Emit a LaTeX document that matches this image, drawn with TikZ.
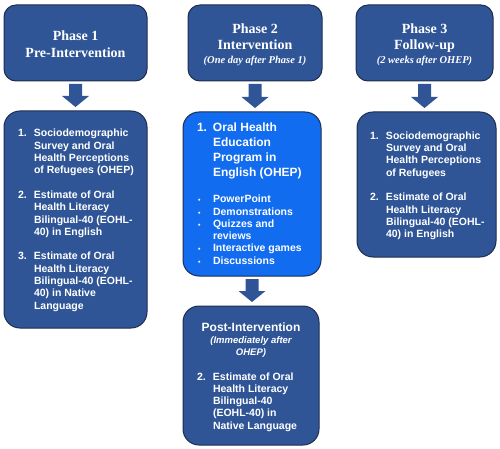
\documentclass[tikz,border=0pt]{standalone}
\usepackage{fontspec}
\setmainfont{Liberation Serif}
\setsansfont{Liberation Sans}
\usetikzlibrary{calc}
\definecolor{darkblue}{RGB}{47,85,151}
\definecolor{brightblue}{RGB}{17,108,240}
\definecolor{edgeblue}{RGB}{30,45,78}
\newcommand{\hdfont}{\rmfamily\bfseries\fontsize{14}{16.7}\selectfont}
\newcommand{\subfont}{\rmfamily\bfseries\itshape\fontsize{10.5}{14}\selectfont}
\newcommand{\lstfont}{\sffamily\bfseries\fontsize{10.5}{12.3}\selectfont}
\newcommand{\bigfont}{\sffamily\bfseries\fontsize{12}{14.9}\selectfont}
\newcommand{\psubfont}{\sffamily\bfseries\itshape\fontsize{9.5}{11.7}\selectfont}
\newcommand{\bul}{{\fontsize{7}{7}\selectfont\textbullet}}
\newcommand{\blockarrow}[2]{%
  \fill[darkblue] let \p1=(#1.south), \p2=(#2.north) in
    (\x1-6.5pt,\y1-3pt) -- (\x1+6.5pt,\y1-3pt) -- (\x1+6.5pt,\y2+15pt)
    -- (\x1+13.5pt,\y2+15pt) -- (\x1,\y2+4pt) -- (\x1-13.5pt,\y2+15pt)
    -- (\x1-6.5pt,\y2+15pt) -- cycle;}
\tikzset{
  box/.style={draw=edgeblue, line width=1pt, fill=darkblue, inner sep=0pt, outer sep=0pt},
  hdbox/.style={box, rounded corners=12pt, minimum width=#1, minimum height=76pt},
  bodybox/.style={box, rounded corners=16pt},
  txt/.style={text=white, inner sep=0pt, outer sep=0pt},
}
\begin{document}
\begin{tikzpicture}[x=1pt,y=-1pt]
\useasboundingbox (0,0) rectangle (500,449);
% header boxes
\node[hdbox=143pt] (h1) at (75.5,43) {};
\node[hdbox=134pt] (h2) at (255,43) {};
\node[hdbox=137pt] (h3) at (424.5,43) {};
% body boxes
\node[bodybox, minimum width=143pt, minimum height=217pt] (b1) at (75.5,219.5) {};
\node[bodybox, fill=brightblue, minimum width=138pt, minimum height=164pt] (b2) at (252,194) {};
\node[bodybox, minimum width=139pt, minimum height=145pt] (b3) at (426.5,184.5) {};
\node[bodybox, minimum width=136pt, minimum height=139pt] (post) at (251,375.5) {};
% arrows
\blockarrow{h1}{b1}
\blockarrow{h2}{b2}
\blockarrow{h3}{b3}
\blockarrow{b2}{post}
% header texts
\node[txt, anchor=base] (h1a) at (75.5,40.7) {\hdfont Phase 1};
\node[txt, anchor=base] (h1b) at (75.5,57.3) {\hdfont Pre-Intervention};
\node[txt, anchor=base] (h2a) at (255,33.3) {\hdfont Phase 2};
\node[txt, anchor=base] (h2b) at (255,50) {\hdfont Intervention};
\node[txt, anchor=base] (h2c) at (255,64) {\subfont (One day after Phase 1)};
\node[txt, anchor=base] (h3a) at (424.5,33.3) {\hdfont Phase 3};
\node[txt, anchor=base] (h3b) at (424.5,50) {\hdfont Follow-up};
\node[txt, anchor=base] (h3c) at (424.5,64) {\subfont (2 weeks after OHEP)};
% body 1
\node[txt, anchor=base west] (t1) at (18,137) {\lstfont\begin{tabular}[t]{@{}p{16pt}@{}l@{}}
1. & Sociodemographic\\ & Survey and Oral\\ & Health Perceptions\\ & of Refugees (OHEP)\\[12.3pt]
2. & Estimate of Oral\\ & Health Literacy\\ & Bilingual-40 (EOHL-\\ & 40) in English\\[12.3pt]
3. & Estimate of Oral\\ & Health Literacy\\ & Bilingual-40 (EOHL-\\ & 40) in Native\\ & Language
\end{tabular}};
% body 2
\node[txt, anchor=base west] (t2) at (197,132) {\bigfont\begin{tabular}[t]{@{}p{16pt}@{}l@{}}
1. & Oral Health\\ & Education\\ & Program in\\ & English (OHEP)
\end{tabular}};
\node[txt, anchor=base west] (t2b) at (198,202.7) {\lstfont\begin{tabular}[t]{@{}p{15pt}@{}l@{}}
\bul & PowerPoint\\ \bul & Demonstrations\\ \bul & Quizzes and\\ & reviews\\ \bul & Interactive games\\ \bul & Discussions
\end{tabular}};
% body 3
\node[txt, anchor=base west] (t3) at (370,139.3) {\lstfont\begin{tabular}[t]{@{}p{16pt}@{}l@{}}
1. & Sociodemographic\\ & Survey and Oral\\ & Health Perceptions\\ & of Refugees\\[12.3pt]
2. & Estimate of Oral\\ & Health Literacy\\ & Bilingual-40 (EOHL-\\ & 40) in English
\end{tabular}};
% post-intervention
\node[txt, anchor=base] (p1) at (251,331.7) {\bigfont Post-Intervention};
\node[txt, anchor=base] (p2) at (251,343.3) {\psubfont (Immediately after};
\node[txt, anchor=base] (p3) at (251,355) {\psubfont OHEP)};
\node[txt, anchor=base west] (p4) at (197,380) {\lstfont\begin{tabular}[t]{@{}p{16pt}@{}l@{}}
2. & Estimate of Oral\\ & Health Literacy\\ & Bilingual-40\\ & (EOHL-40) in\\ & Native Language
\end{tabular}};
\end{tikzpicture}
\end{document}
